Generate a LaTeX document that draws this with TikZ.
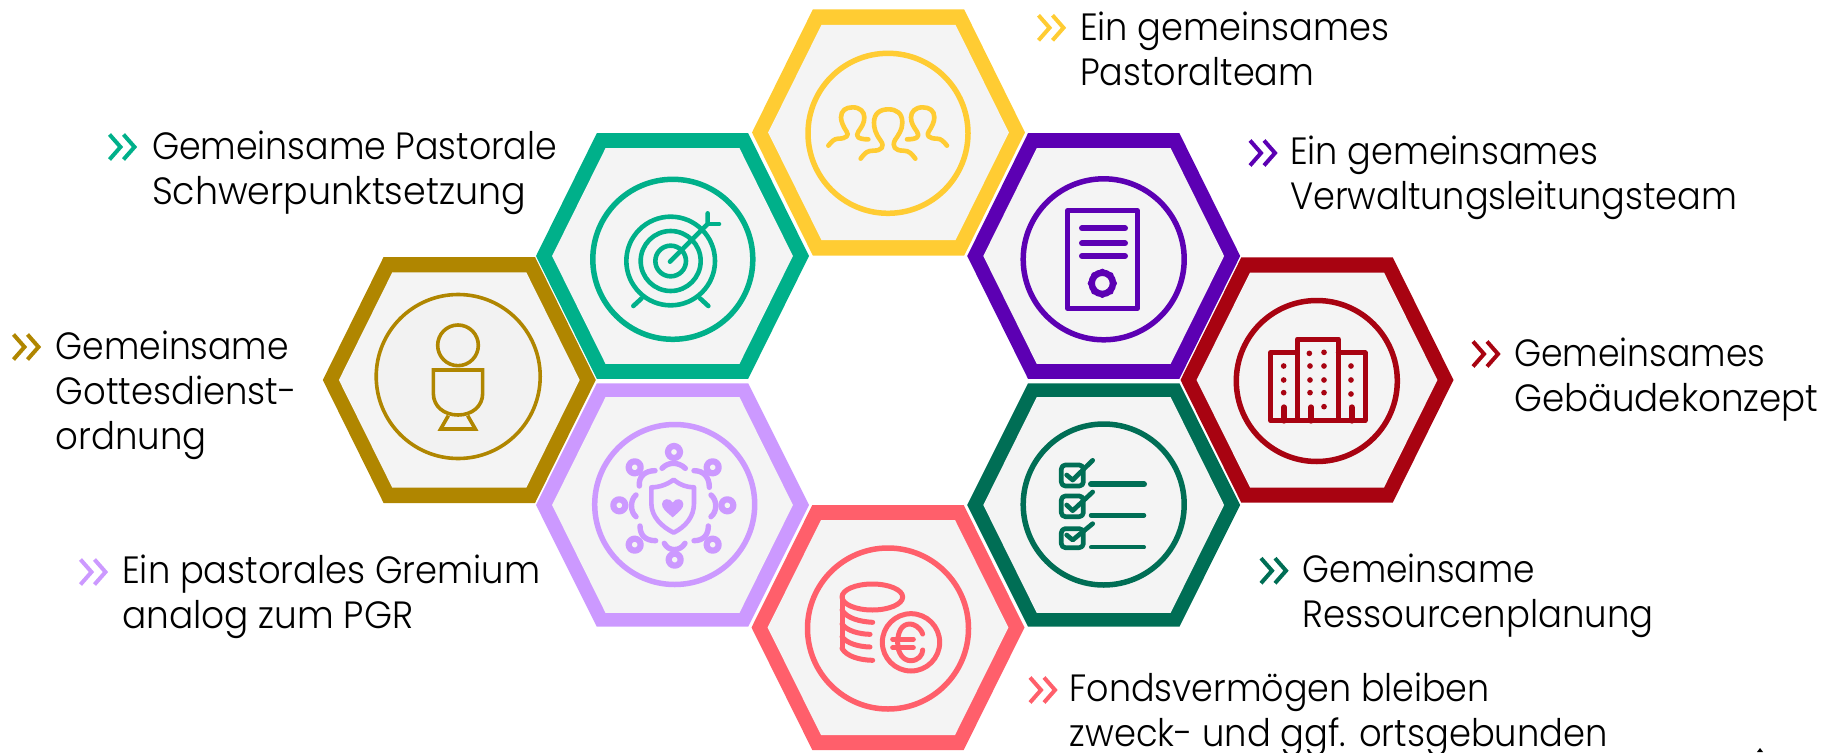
\documentclass[tikz,border=0pt]{standalone}
\usepackage{graphicx}
\usepackage{fontspec}
\setmainfont{Poppins Light}
\definecolor{cYel}{HTML}{FFCC33}
\definecolor{cGrn}{HTML}{00B08A}
\definecolor{cGold}{HTML}{B08600}
\definecolor{cLil}{HTML}{CC99FF}
\definecolor{cPink}{HTML}{FF5F6B}
\definecolor{cDGr}{HTML}{006E55}
\definecolor{cCrim}{HTML}{A80311}
\definecolor{cPur}{HTML}{5C00B3}
\definecolor{hexbg}{HTML}{F4F4F4}
\newcommand{\hexa}[5]{% cx cy colour outerh innerh
  \fill[#3] (#1-136.5,#2) -- (#1-75.7,#2-#4) -- (#1+75.7,#2-#4) -- (#1+136.5,#2) -- (#1+75.7,#2+#4) -- (#1-75.7,#2+#4) -- cycle;
  \fill[hexbg] (#1-120.4,#2) -- (#1-67,#2-#5) -- (#1+67,#2-#5) -- (#1+120.4,#2) -- (#1+67,#2+#5) -- (#1-67,#2+#5) -- cycle;
}
\newcommand{\chev}[3]{% x, ymid, colour
  \draw[chevron,#3] (#1,#2-12.5) -- (#1+11,#2) -- (#1,#2+12.5);
  \draw[chevron,#3] (#1+14,#2-12.5) -- (#1+25,#2) -- (#1+14,#2+12.5);
}
\newcommand{\fl}{\rule{0pt}{30pt}}
\newcommand{\tl}[2]{\resizebox{#1pt}{\height}{#2}}
\tikzset{
  chevron/.style={line width=4pt},
  lbl/.style={anchor=north west,inner sep=0pt,align=left,text=black,font=\fontsize{38}{45}\selectfont},
  ring/.style={draw=#1,line width=5.5pt},
  zoomat/.style 2 args={shift={(#1pt,-#2pt)},x=.33333pt,y=-.33333pt},
  ico/.style={line width=#1pt,line cap=round,line join=round}
}
\begin{document}
\begin{tikzpicture}[x=1pt,y=-1pt]
\useasboundingbox (0,0) rectangle (1825,752);
% hexagons
\hexa{888.5}{132.5}{cYel}{123}{107.7}
\hexa{672.5}{256}{cGrn}{122.8}{107.8}
\hexa{459.3}{380}{cGold}{123}{107.7}
\hexa{672.5}{505}{cLil}{121.7}{107.8}
\hexa{888}{627.5}{cPink}{122.5}{107.5}
\hexa{1103.7}{505}{cDGr}{121.7}{107.8}
\hexa{1317}{380}{cCrim}{122.7}{107.5}
\hexa{1103.7}{256}{cPur}{122.8}{107.8}
% circles
\draw[ring=cYel] (888,133.3) circle (80);
\draw[ring=cGrn] (672.8,259.3) circle (80);
\draw[cGold,line width=3.6pt,fill=black!5] (458.2,376.5) circle (82);
\draw[ring=cLil] (674.7,504.5) circle (80);
\draw[ring=cPink] (888,628.5) circle (80.5);
\draw[ring=cDGr] (1103.7,504.5) circle (80.5);
\draw[ring=cCrim] (1316.8,381) circle (80.5);
\draw[ring=cPur] (1103.7,259.3) circle (80.5);
% people icon
\begin{scope}[zoomat={730}{0},ico=4.6,cYel]
\draw (392,476) .. controls (405,458) and (412,452) .. (430,452) .. controls (455,452) and (465,440) .. (452,422) .. controls (436,400) and (432,385) .. (432,368) .. controls (432,340) and (450,328) .. (475,328) .. controls (500,328) and (517,340) .. (517,368) .. controls (517,390) and (505,405) .. (495,420) .. controls (485,440) and (495,452) .. (520,452) .. controls (538,452) and (545,462) .. (556,476);
\draw (295,437) .. controls (305,425) and (312,416) .. (325,416) .. controls (350,416) and (358,405) .. (350,395) .. controls (340,380) and (333,365) .. (333,352) .. controls (333,332) and (347,322) .. (368,322) .. controls (390,322) and (403,335) .. (403,352) .. controls (403,370) and (395,380) .. (385,395) .. controls (375,410) and (385,418) .. (415,418);
\draw (651,437) .. controls (641,425) and (634,416) .. (621,416) .. controls (596,416) and (588,405) .. (596,395) .. controls (606,380) and (613,365) .. (613,352) .. controls (613,332) and (599,322) .. (578,322) .. controls (556,322) and (543,335) .. (543,352) .. controls (543,370) and (551,380) .. (561,395) .. controls (571,410) and (561,418) .. (531,418);
\end{scope}
% target icon
\begin{scope}[zoomat={530}{130},ico=4.6,cGrn]
\draw (422,393) circle (133);
\draw (422,393) circle (90);
\draw (422,393) circle (46);
\draw (420,395) -- (533,282) -- (533,250);
\draw (533,282) -- (567,282);
\draw (335,505) -- (310,528);
\draw (510,505) -- (535,528);
\end{scope}
% chalice icon
\begin{scope}[zoomat={320}{250},cGold,line width=3.6pt]
\draw (414,286) circle (61);
\draw (340,360) -- (488,360) -- (488,430) .. controls (488,470) and (455,495) .. (414,495) .. controls (373,495) and (340,470) .. (340,430) -- cycle;
\draw (385,497) -- (362,537) -- (466,537) -- (443,497);
\end{scope}
% shield icon
\begin{scope}[zoomat={530}{380},ico=5.4,cLil]
\draw[line width=4.6pt] (431,299) .. controls (410,315) and (385,322) .. (364,322) -- (364,370) .. controls (364,410) and (395,440) .. (431,458) .. controls (467,440) and (492,410) .. (492,370) -- (492,322) .. controls (470,322) and (450,315) .. (431,299) -- cycle;
\fill (428,412) .. controls (405,392) and (396,385) .. (396,372) .. controls (396,355) and (420,352) .. (428,368) .. controls (436,352) and (460,355) .. (460,372) .. controls (460,385) and (451,392) .. (428,412) -- cycle;
\foreach \a/\b in {432/216,548/262,592/376,548/494,434/539,314/494,268/376,314/262}
  \draw[line width=6.2pt] (\a,\b) circle (18);
\draw (396,265) .. controls (415,245) and (445,245) .. (466,265);
\draw (403,490) .. controls (415,515) and (450,515) .. (465,490);
\draw (318,345) .. controls (300,360) and (300,395) .. (318,410);
\draw (543,345) .. controls (562,360) and (562,395) .. (543,410);
\draw (328,318) .. controls (325,290) and (345,272) .. (375,272);
\draw (538,322) .. controls (538,290) and (520,272) .. (492,272);
\draw (330,438) .. controls (330,465) and (345,482) .. (377,482);
\draw (535,438) .. controls (535,465) and (520,482) .. (492,482);
\end{scope}
% coins icon
\begin{scope}[zoomat={750}{500},ico=5,cPink]
\draw (367,291) ellipse [x radius=91,y radius=39];
\draw (276,291) -- (276,445);
\draw (276,330) .. controls (290,355) and (330,365) .. (368,367);
\draw (276,372) .. controls (290,392) and (325,402) .. (360,403);
\draw (276,410) .. controls (290,430) and (325,440) .. (360,441);
\draw (276,445) .. controls (290,470) and (330,480) .. (368,481);
\draw (483,427) circle (86);
\draw (518,402) .. controls (510,380) and (490,372) .. (480,372) .. controls (455,372) and (443,395) .. (443,428) .. controls (443,460) and (460,482) .. (482,482) .. controls (505,482) and (518,465) .. (518,450);
\draw (428,417) -- (490,417);
\draw (428,443) -- (490,443);
\end{scope}
% checklist icon
\begin{scope}[zoomat={960}{380},ico=4.7,cDGr]
\draw[rounded corners=4pt] (304,255) rectangle (370,318);
\draw[rounded corners=4pt] (304,348) rectangle (370,410);
\draw[rounded corners=4pt] (304,446) rectangle (370,503);
\draw (320,285) -- (338,300) -- (398,241);
\draw (320,375) -- (338,392) -- (398,336);
\draw (320,465) -- (338,480) -- (398,431);
\draw[line width=6pt] (393,313) -- (552,313);
\draw[line width=4.5pt] (393,406) -- (552,406);
\draw[line width=4pt] (393,502) -- (552,502);
\end{scope}
% buildings icon
\begin{scope}[zoomat={1180}{250},ico=5,cCrim]
\draw (352,510) -- (352,267) -- (475,267) -- (475,510);
\draw (352,308) -- (272,308) -- (272,512) -- (555,512) -- (555,308) -- (475,308);
\draw[line width=6pt] (312,512) -- (312,472);
\draw[line width=6pt] (393,512) -- (393,472);
\draw[line width=6pt] (515,512) -- (515,472);
\foreach \a/\b in {311/348,311/390,311/428,388/310,390/348,390/390,390/428,432/307,432/348,432/390,432/428,432/470,513/348,513/390,513/432}
  \fill (\a,\b) circle (8.5);
\end{scope}
% document icon
\begin{scope}[zoomat={960}{130},ico=5,cPur]
\draw (323,242) rectangle (532,535);
\draw[line width=6pt] (366,295) -- (495,295);
\draw[line width=6pt] (366,340) -- (495,340);
\draw[line width=6pt] (366,378) -- (495,378);
\draw[line width=6.5pt] (427,460) circle (32);
\foreach \t in {0,45,...,315}
  \fill (427,460) ++(\t:36) circle (8);
\end{scope}
% chevrons
\chev{1038.5}{27.8}{cYel}
\chev{1250}{153}{cPur}
\chev{1473}{354}{cCrim}
\chev{1261}{570.7}{cDGr}
\chev{1030}{690}{cPink}
\chev{80.5}{572}{cLil}
\chev{13.5}{347}{cGold}
\chev{109.5}{147}{cGrn}
% labels
\node[lbl] (tYel) at (1080,10.5) {\fl\tl{309}{Ein gemeinsames}\\\tl{234}{Pastoralteam}};
\node[lbl] (tPur) at (1290,134) {\fl\tl{308}{Ein gemeinsames}\\\tl{447}{Verwaltungsleitungsteam}};
\node[lbl] (tCrim) at (1514,336.5) {\fl\tl{251}{Gemeinsames}\\\tl{304}{Gebäudekonzept}};
\node[lbl] (tDGr) at (1302.5,552.7) {\fl\tl{232}{Gemeinsame}\\\tl{351}{Ressourcenplanung}};
\node[lbl] (tPink) at (1069.5,671) {\fl\tl{420}{Fondsvermögen bleiben}\\\tl{538}{zweck- und ggf. ortsgebunden}};
\node[lbl] (tLil) at (122,553.7) {\fl\tl{418}{Ein pastorales Gremium}\\\tl{291}{analog zum PGR}};
\node[lbl] (tGold) at (55.5,329) {\fl\tl{233}{Gemeinsame}\\\tl{241}{Gottesdienst-}\\\tl{151}{ordnung}};
\node[lbl] (tGrn) at (151.8,129.7) {\fl\tl{405}{Gemeinsame Pastorale}\\\tl{374}{Schwerpunktsetzung}};
% speck at lower right edge
\fill[black] (1760,748) -- (1763,752) -- (1757,752) -- cycle;
\end{tikzpicture}
\end{document}
